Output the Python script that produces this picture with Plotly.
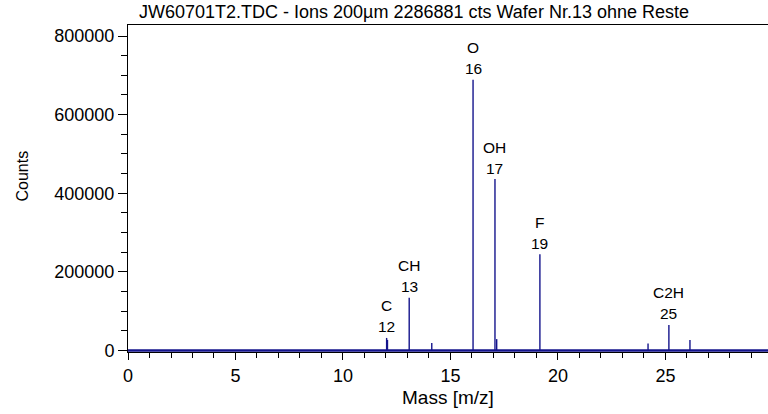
import plotly.graph_objects as go

# ---- data ----
peak_mass = [12.03, 12.07, 13.08, 14.13, 16.05, 17.07, 17.15, 19.16, 24.19, 25.16, 26.14]
peak_counts = [32000, 27000, 134000, 19000, 689000, 436000, 29000, 245000, 18000, 65000, 27000]

label_names = ["C", "CH", "O", "OH", "F", "C2H"]
label_numbers = ["12", "13", "16", "17", "19", "25"]
label_mass = [12.03, 13.08, 16.05, 17.07, 19.16, 25.16]
label_counts = [32000, 134000, 689000, 436000, 245000, 65000]

x_range = [0, 29.77]
y_range = [-3800, 828000]
title_text = "JW60701T2.TDC - Ions 200µm 2286881 cts Wafer Nr.13 ohne Reste"

LINE = "#14148c"
FONT = "Arial, Liberation Sans, sans-serif"

# spikes built from the peak lists (None separates segments)
sx, sy = [], []
for m, c in zip(peak_mass, peak_counts):
    sx += [m, m, None]
    sy += [0, c, None]

fig = go.Figure()
fig.add_trace(go.Scatter(x=x_range, y=[0, 0], mode="lines",
                         line=dict(color=LINE, width=2.5), hoverinfo="skip"))
fig.add_trace(go.Scatter(x=sx, y=sy, mode="lines",
                         line=dict(color=LINE, width=1.4), hoverinfo="skip"))

ann = []
for name, num, m, c in zip(label_names, label_numbers, label_mass, label_counts):
    ann.append(dict(x=m, y=c, xref="x", yref="y", text=num, showarrow=False,
                    yanchor="middle", yshift=11, font=dict(size=15.5, color="black", family=FONT)))
    ann.append(dict(x=m, y=c, xref="x", yref="y", text=name, showarrow=False,
                    yanchor="middle", yshift=32, font=dict(size=15.5, color="black", family=FONT)))

# title and axis titles
ann.append(dict(x=(414 - 128) / 640, y=1, xref="paper", yref="paper", xanchor="center", yanchor="middle",
                yshift=13, text=title_text, showarrow=False,
                font=dict(size=18, color="black", family=FONT)))
ann.append(dict(x=0.5, y=0, xref="paper", yref="paper", xanchor="center", yanchor="middle",
                yshift=-45, text="Mass [m/z]", showarrow=False,
                font=dict(size=19, color="black", family=FONT)))
ann.append(dict(x=0, y=0.5, xref="paper", yref="paper", xanchor="center", yanchor="middle",
                xshift=-106, yshift=12, text="Counts", textangle=-90, showarrow=False,
                font=dict(size=16, color="black", family=FONT)))

fig.update_layout(
    width=768, height=414,
    margin=dict(l=128, r=0, t=25, b=62),
    paper_bgcolor="white", plot_bgcolor="white",
    showlegend=False,
    annotations=ann,
    font=dict(family=FONT, color="black"),
)
fig.update_xaxes(range=x_range, showgrid=False, zeroline=False,
                 showline=True, linecolor="black", linewidth=1, mirror=True,
                 ticks="outside", ticklen=7, tickwidth=1, tickcolor="black",
                 tick0=0, dtick=5, tickfont=dict(size=18, family=FONT, color="black"),
                 minor=dict(ticks="outside", ticklen=5, tickcolor="black", dtick=1, tick0=0, showgrid=False))
fig.update_yaxes(range=y_range, showgrid=False, zeroline=False,
                 showline=True, linecolor="black", linewidth=1,
                 ticks="outside", ticklen=9, tickwidth=1, tickcolor="black",
                 tick0=0, dtick=200000, tickformat="d", tickfont=dict(size=18, family=FONT, color="black"),
                 minor=dict(ticks="outside", ticklen=6, tickcolor="black", dtick=50000, tick0=0, showgrid=False))

fig.write_html("out.html", config={"displayModeBar": False},
               post_script="document.body.style.margin='0';document.body.style.overflow='hidden';")
